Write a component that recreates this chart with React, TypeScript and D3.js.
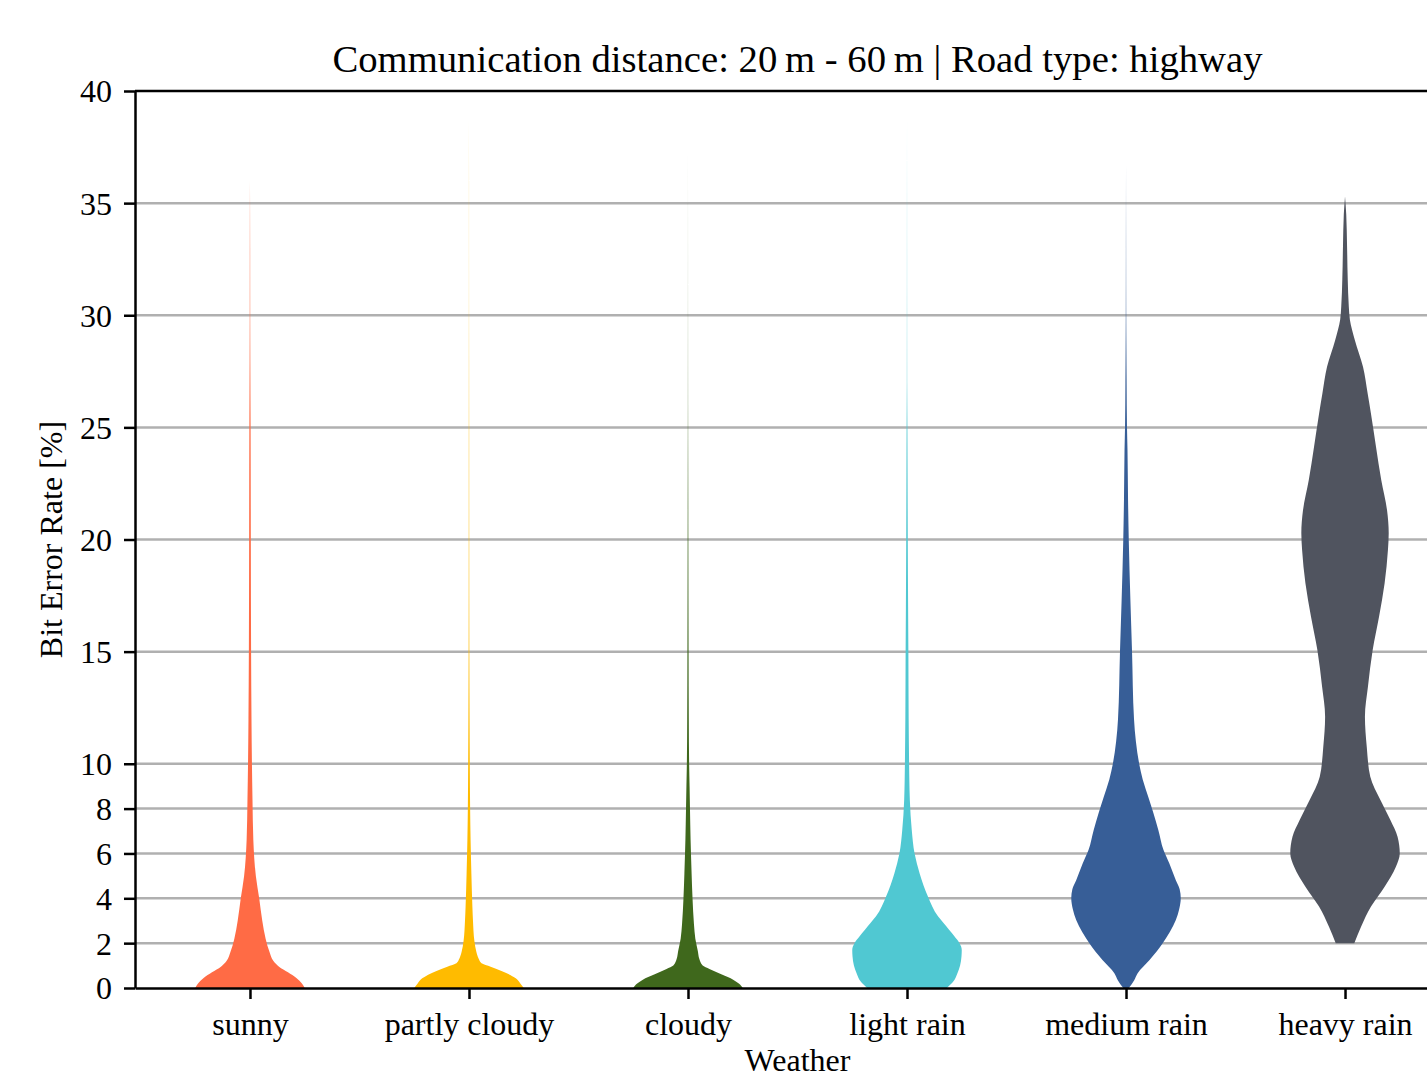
import { useEffect, useRef } from "react";
import * as d3 from "d3";

const categories = ["sunny", "partly cloudy", "cloudy", "light rain", "medium rain", "heavy rain"];
const palette = ["#FF6B45", "#FFBB00", "#3F681C", "#50C8D2", "#375E97", "#50545F"];
const yTicks = [0, 2, 4, 6, 8, 10, 15, 20, 25, 30, 35, 40];

// [bit error rate %, relative density]
const sunny: [number, number][] = [
  [0, 0.98], [0.2, 0.93], [0.45, 0.83], [0.7, 0.68], [0.95, 0.52], [1.2, 0.42],
  [1.6, 0.35], [2.2, 0.28], [3.0, 0.22], [4.0, 0.165], [5.0, 0.105], [6.6, 0.06],
  [8.4, 0.045], [10, 0.035], [12, 0.027], [15, 0.02], [20, 0.015], [25, 0.011],
  [28, 0.006], [30, 0.004], [33, 0.003], [36, 0],
];
const partlyCloudy: [number, number][] = [
  [0, 0.96], [0.2, 0.9], [0.43, 0.82], [0.75, 0.58], [0.95, 0.38], [1.1, 0.22],
  [1.3, 0.17], [1.6, 0.13], [2.1, 0.095], [3.0, 0.07], [3.6, 0.06], [5.1, 0.042],
  [6.6, 0.028], [8, 0.02], [10, 0.014], [12, 0.01], [15, 0.006], [20, 0.004],
  [25, 0.003], [28, 0.002], [32, 0.001], [36, 0.0008], [38.8, 0],
];
const cloudy: [number, number][] = [
  [0, 0.97], [0.2, 0.9], [0.37, 0.8], [0.6, 0.6], [0.85, 0.38], [1.0, 0.26],
  [1.3, 0.2], [1.64, 0.175], [2.2, 0.13], [2.83, 0.106], [4, 0.08], [5.1, 0.064],
  [6.6, 0.046], [8, 0.035], [9, 0.028], [10, 0.02], [12, 0.014], [15, 0.01],
  [20, 0.006], [23, 0.004], [26, 0.002], [30, 0.001], [37.4, 0],
];
const lightRain: [number, number][] = [
  [0, 0.72], [0.3, 0.84], [0.65, 0.91], [1.0, 0.96], [1.4, 0.985], [1.7, 0.99],
  [2.0, 0.95], [2.3, 0.86], [2.6, 0.76], [2.9, 0.66], [3.2, 0.56], [4.07, 0.38],
  [5.1, 0.23], [6.0, 0.137], [7.05, 0.086], [8.4, 0.051], [9.3, 0.042], [10, 0.038],
  [12, 0.03], [15, 0.025], [17, 0.02], [20, 0.014], [23, 0.01], [25, 0.007],
  [27, 0.003], [30, 0.002], [35, 0.001], [38.8, 0],
];
const mediumRain: [number, number][] = [
  [0, 0.05], [0.35, 0.15], [0.65, 0.21], [1.25, 0.43], [2.0, 0.67], [2.5, 0.8],
  [3.03, 0.91], [3.5, 0.97], [4.0, 1.0], [4.4, 0.98], [4.8, 0.91], [5.56, 0.79],
  [6.15, 0.685], [7.05, 0.59], [7.8, 0.5], [8.5, 0.41], [9.3, 0.305], [10, 0.24],
  [11, 0.18], [12, 0.146], [15, 0.11], [17.3, 0.08], [20, 0.05], [21.8, 0.037],
  [24, 0.027], [25, 0.018], [27, 0.011], [28.5, 0.007], [30, 0.004], [33, 0.002],
  [36.7, 0],
];
const heavyRain: [number, number][] = [
  [2.0, 0.168], [2.73, 0.29], [3.63, 0.47], [4.52, 0.716], [5.41, 0.92], [6.0, 0.99],
  [6.75, 0.95], [7.49, 0.82], [8.38, 0.64], [9.42, 0.457], [10.76, 0.393], [12.1, 0.36],
  [13.44, 0.415], [15.07, 0.5], [16.56, 0.615], [18.05, 0.716], [19.53, 0.776],
  [20.28, 0.79], [21.3, 0.76], [22.65, 0.655], [24.14, 0.56], [25.6, 0.47], [26.5, 0.41],
  [27.7, 0.325], [28.9, 0.177], [29.8, 0.088], [30.4, 0.068], [31.6, 0.049],
  [33.06, 0.037], [34.5, 0.022], [35.3, 0],
];
const profiles = [sunny, partlyCloudy, cloudy, lightRain, mediumRain, heavyRain];

const width = 1427;
const height = 1079;
const font = '"Liberation Serif", "DejaVu Serif", serif';

export default function App() {
  const svgRef = useRef<SVGSVGElement>(null);

  useEffect(() => {
    if (!svgRef.current) return;
    const svg = d3.select(svgRef.current);
    svg.selectAll("*").remove();

    const left = 135;
    const right = 1460; // axes run past the picture edge
    const top = 91;
    const bottom = 988;

    const x = d3
      .scaleLinear()
      .domain([-0.525, categories.length - 0.475])
      .range([left, right]);
    const y = d3.scaleLinear().domain([0, 40]).range([bottom, top]);

    // grid
    svg
      .append("g")
      .selectAll("line")
      .data(yTicks.filter((t) => t > 0 && t < 40))
      .join("line")
      .attr("x1", left)
      .attr("x2", right)
      .attr("y1", (d) => y(d))
      .attr("y2", (d) => y(d))
      .attr("stroke", "#b0b0b0")
      .attr("stroke-width", 2.5);

    // violins, each scaled to its own max density
    const halfW = x(0.25) - x(0);
    profiles.forEach((p, i) => {
      const maxD = d3.max(p, (d) => d[1]) ?? 1;
      const w = d3.scaleLinear().domain([0, maxD]).range([0, halfW]);
      const area = d3
        .area<[number, number]>()
        .y((d) => y(d[0]))
        .x0((d) => x(i) - w(d[1]))
        .x1((d) => x(i) + w(d[1]))
        .curve(d3.curveMonotoneY);
      svg.append("path").attr("d", area(p)).attr("fill", palette[i]);
    });

    // axes
    const yAxis = svg
      .append("g")
      .attr("transform", `translate(${left},0)`)
      .call(d3.axisLeft(y).tickValues(yTicks).tickSize(11).tickSizeOuter(0).tickPadding(12));
    const xAxis = svg
      .append("g")
      .attr("transform", `translate(0,${bottom})`)
      .call(
        d3
          .axisBottom(x)
          .tickValues(d3.range(categories.length))
          .tickFormat((d) => categories[d as number])
          .tickSize(11)
          .tickSizeOuter(0)
          .tickPadding(13),
      );
    [yAxis, xAxis].forEach((g) => {
      g.attr("font-family", font).attr("font-size", 32);
      g.selectAll("line").attr("stroke", "#000").attr("stroke-width", 2.5);
      g.select(".domain").attr("stroke", "#000").attr("stroke-width", 2.5);
      g.selectAll("text").attr("fill", "#000");
    });
    yAxis.selectAll("text").attr("dy", "0.34em");

    // top / right spines
    svg
      .append("line")
      .attr("x1", left)
      .attr("x2", right)
      .attr("y1", top)
      .attr("y2", top)
      .attr("stroke", "#000")
      .attr("stroke-width", 2.5);
    svg
      .append("line")
      .attr("x1", right)
      .attr("x2", right)
      .attr("y1", top)
      .attr("y2", bottom)
      .attr("stroke", "#000")
      .attr("stroke-width", 2.5);

    const cx = (left + right) / 2;
    svg
      .append("text")
      .attr("x", cx)
      .attr("y", 72)
      .attr("text-anchor", "middle")
      .attr("font-family", font)
      .attr("font-size", 38.7)
      .text("Communication distance: 20\u2009m - 60\u2009m | Road type: highway");

    svg
      .append("text")
      .attr("x", cx)
      .attr("y", 1071)
      .attr("text-anchor", "middle")
      .attr("font-family", font)
      .attr("font-size", 32)
      .text("Weather");

    svg
      .append("text")
      .attr("transform", `translate(62,${(top + bottom) / 2}) rotate(-90)`)
      .attr("text-anchor", "middle")
      .attr("font-family", font)
      .attr("font-size", 32)
      .text("Bit Error Rate [%]");
  }, []);

  return (
    <div style={{ position: "absolute", left: 0, top: 0 }}>
      <svg ref={svgRef} width={width} height={height} style={{ display: "block", background: "#fff" }} />
    </div>
  );
}
